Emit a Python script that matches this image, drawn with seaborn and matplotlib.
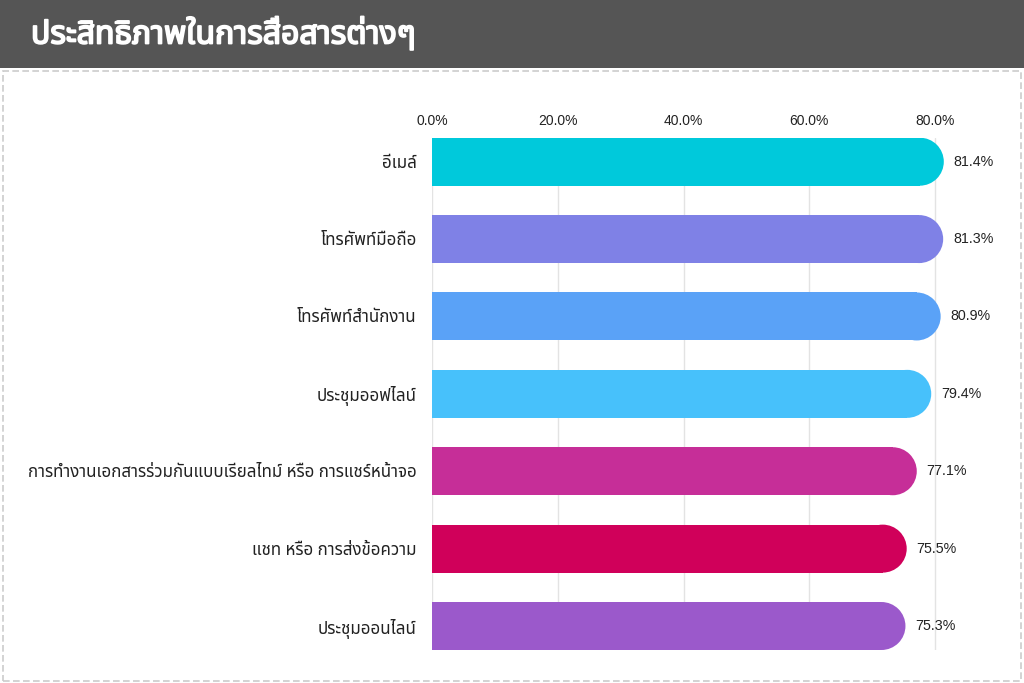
import matplotlib
matplotlib.use("Agg")
import matplotlib.pyplot as plt
from matplotlib import font_manager, ft2font
from matplotlib.patches import Ellipse, Rectangle
import matplotlib.patheffects as pe
import seaborn as sns
import pandas as pd

categories = [
    "อีเมล์",
    "โทรศัพท์มือถือ",
    "โทรศัพท์สำนักงาน",
    "ประชุมออฟไลน์",
    "การทำงานเอกสารร่วมกันแบบเรียลไทม์ หรือ การแชร์หน้าจอ",
    "แชท หรือ การส่งข้อความ",
    "ประชุมออนไลน์",
]
values = [81.4, 81.3, 80.9, 79.4, 77.1, 75.5, 75.3]
colors = ["#00C9DB", "#7F81E6", "#5AA2F7", "#47C1FB", "#C62E98", "#D0005A", "#9B59CB"]
tick_values = [0, 20, 40, 60, 80]
tick_labels = ["0.0%", "20.0%", "40.0%", "60.0%", "80.0%"]
title = "ประสิทธิภาพในการสื่อสารต่างๆ"

# find a font with Thai glyphs
cands = {}
for f in font_manager.fontManager.ttflist:
    try:
        ft = ft2font.FT2Font(f.fname)
        if ft.get_char_index(ord("ก")):
            cands.setdefault(f.name, []).append(f.weight)
    except Exception:
        pass
pref = [n for n in cands if "Thai" in n and "Looped" not in n and "Serif" not in n]
thai_font = None
if pref:
    pref.sort(key=lambda n: ("UI" in n, len(n)))
    thai_font = pref[0]
elif cands:
    thai_font = list(cands)[0]
fam = ([thai_font] if thai_font else []) + ["DejaVu Sans"]


def _w(x):
    if isinstance(x, (int, float)):
        return x
    return {"bold": 700, "semibold": 600, "demibold": 600, "heavy": 800, "black": 900,
            "extra bold": 800}.get(str(x).lower(), 400)


has_bold = bool(thai_font) and any(_w(x) >= 600 for x in cands.get(thai_font, []))

sns.set_theme(style="white")
plt.rcParams["font.family"] = fam

df = pd.DataFrame({"cat": categories, "val": values})

fig = plt.figure(figsize=(10.24, 6.83), dpi=100)
fig.patch.set_facecolor("white")

# header band
fig.patches.append(Rectangle((0, 1 - 68 / 683), 1, 68 / 683, transform=fig.transFigure,
                             facecolor="#555555", edgecolor="none", zorder=0))
# dashed border
fig.patches.append(Rectangle((2.5 / 1024, 2.5 / 683), 1018 / 1024, (680 - 70) / 683,
                             transform=fig.transFigure, facecolor="none",
                             edgecolor="#CCCCCC", linewidth=1.2, linestyle=(0, (4, 2)), zorder=0))
tt = fig.text(31 / 1024, 1 - 35 / 683, title, color="white", fontsize=23, fontweight="bold",
              va="center", ha="left", family=fam)
if not has_bold:
    tt.set_path_effects([pe.withStroke(linewidth=1.3, foreground="white")])

ax_left, ax_right = 432 / 1024, (432 + 88 * 6.2875) / 1024
ax_top, ax_bot = 1 - 137.7 / 683, 1 - 650 / 683
ax = fig.add_axes([ax_left, ax_bot, ax_right - ax_left, ax_top - ax_bot])

w = 0.62
sns.barplot(data=df, x="val", y="cat", hue="cat", palette=colors, orient="h",
            width=w, ax=ax, legend=False, saturation=1, linewidth=0, edgecolor="none")

ax.set_xlim(0, 88)
ax.set_ylim(6 + w / 2, -w / 2)
ax.set_xlabel("")
ax.set_ylabel("")
ax.xaxis.tick_top()
ax.set_xticks(tick_values)
ax.set_xticklabels(tick_labels, fontsize=10, color="#222222", family=["Liberation Sans", "DejaVu Sans"])
ax.tick_params(axis="x", length=0, pad=7)
ax.tick_params(axis="y", length=0, pad=11, labelsize=12.2, labelcolor="#222222")
for s in ax.spines.values():
    s.set_visible(False)
ax.grid(axis="x", color="#E3E3E3", linewidth=1)
ax.set_axisbelow(True)

# value labels
for cont, v in zip(ax.containers, values):
    ax.bar_label(cont, labels=[f"{v:.1f}%"], padding=7, fontsize=10.3, color="#222222",
                 family=["Liberation Sans", "DejaVu Sans"])

# rounded right ends
fig.canvas.draw()
bbox = ax.get_window_extent()
px_per_x = bbox.width / 88
px_per_y = bbox.height / (6 + w)
for p in list(ax.patches):
    x0, y0, wd, ht = p.get_x(), p.get_y(), p.get_width(), p.get_height()
    r_px = abs(ht) * px_per_y / 2
    rx = r_px / px_per_x
    p.set_width(wd - rx)
    e = Ellipse((x0 + wd - rx, y0 + ht / 2), 2 * rx, abs(ht), facecolor=p.get_facecolor(),
                edgecolor="none", linewidth=0, zorder=p.get_zorder())
    ax.add_patch(e)

fig.savefig("out.png", dpi=100, facecolor="white")
